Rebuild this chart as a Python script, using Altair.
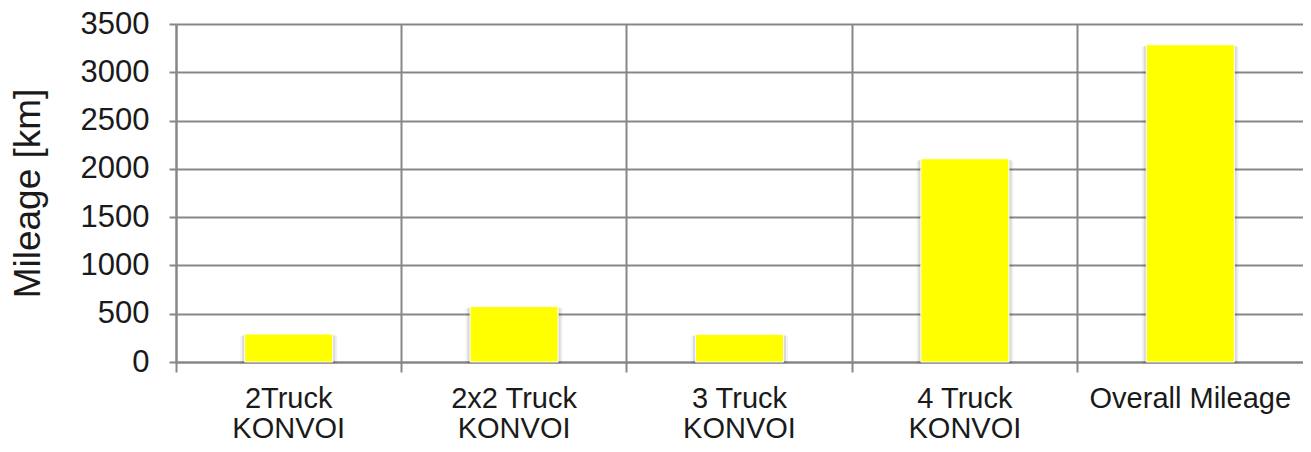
import altair as alt
import pandas as pd

categories = ["2Truck|KONVOI", "2x2 Truck|KONVOI", "3 Truck|KONVOI", "4 Truck|KONVOI", "Overall Mileage"]
mileage = [290, 575, 287, 2105, 3285]
y_ticks = [0, 500, 1000, 1500, 2000, 2500, 3000, 3500]

df = pd.DataFrame({"category": categories, "mileage": mileage})

GRID = "#878787"
TEXT = "#1a1a1a"
FONT = "Liberation Sans"

x_enc = alt.X(
    "category:N",
    sort=categories,
    scale=alt.Scale(paddingInner=0, paddingOuter=0),
    axis=alt.Axis(
        title=None,
        bandPosition=0,
        grid=True, gridColor=GRID, gridWidth=2,
        domainColor=GRID, domainWidth=2,
        ticks=True, tickSize=10, tickColor=GRID, tickWidth=2,
        labelAngle=0, labelPadding=12, labelLimit=400,
        labelFontSize=29, labelLineHeight=30, labelFont=FONT, labelColor=TEXT,
        labelExpr="split(datum.label, '|')",
    ),
)
y_enc = alt.Y(
    "mileage:Q",
    scale=alt.Scale(domain=[0, 3500], nice=False),
    axis=alt.Axis(
        title="Mileage [km]",
        values=y_ticks,
        format="d",
        grid=True, gridColor=GRID, gridWidth=2,
        domainColor=GRID, domainWidth=2,
        tickSize=7, tickColor=GRID, tickWidth=2,
        labelFontSize=31, labelFont=FONT, labelColor=TEXT, labelPadding=20,
        titleFontSize=37, titleFont=FONT, titleColor=TEXT, titleFontWeight="normal",
        titlePadding=33,
    ),
)

base = alt.Chart(df).encode(x=x_enc, y=y_enc)

shadow1 = base.mark_bar(size=97, color="#000000", opacity=0.05, yOffset=2)
shadow2 = base.mark_bar(size=93, color="#000000", opacity=0.10, yOffset=1)
bars = base.mark_bar(size=88, color="#FFFF00", stroke="#FFFFFF", strokeWidth=1)

chart = (
    alt.layer(shadow1, shadow2, bars)
    .properties(
        width=1127,
        height=338,
        autosize=alt.AutoSizeParams(type="none"),
        padding={"left": 168, "top": 16, "right": 0, "bottom": 82},
    )
    .configure_view(stroke=None)
    .configure(background="#FFFFFF")
)

chart.save("out.html", embed_options={"renderer": "svg", "actions": False})
